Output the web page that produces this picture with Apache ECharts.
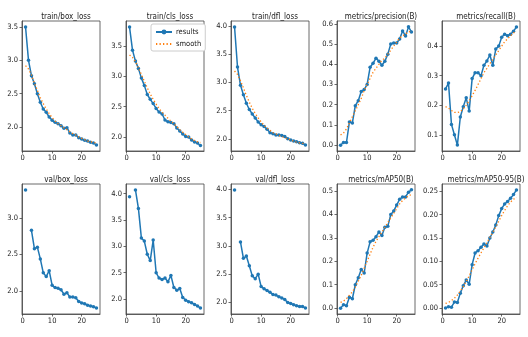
<!DOCTYPE html>
<html><head><meta charset="utf-8">
<script src="https://cdn.jsdelivr.net/npm/echarts@6/dist/echarts.min.js"></script>
<style>html,body{margin:0;padding:0;background:#fff}#c{width:528px;height:337px}</style>
</head><body><div id="c"></div>
<script>
const epochs = [1,2,3,4,5,6,7,8,9,10,11,12,13,14,15,16,17,18,19,20,21,22,23,24,25];
const xTickLabels = [0, 10, 20];

const trainBoxLoss   = [3.50,3.00,2.77,2.65,2.50,2.37,2.27,2.22,2.15,2.10,2.07,2.05,2.02,1.98,1.99,1.91,1.88,1.88,1.84,1.82,1.80,1.79,1.77,1.76,1.73];
const trainBoxSmooth = [2.92,2.87,2.78,2.66,2.55,2.44,2.35,2.27,2.20,2.14,2.09,2.05,2.02,1.99,1.96,1.93,1.90,1.88,1.85,1.83,1.81,1.79,1.78,1.77,1.76];
const trainClsLoss   = [3.81,3.43,3.25,3.13,2.97,2.85,2.70,2.62,2.55,2.47,2.41,2.38,2.28,2.25,2.24,2.22,2.15,2.10,2.05,2.01,2.00,1.95,1.92,1.90,1.86];
const trainClsSmooth = [3.35,3.31,3.24,3.14,3.03,2.92,2.81,2.71,2.62,2.54,2.47,2.41,2.36,2.31,2.26,2.22,2.17,2.12,2.08,2.04,2.00,1.97,1.94,1.92,1.91];
const trainDflLoss   = [3.98,3.27,2.95,2.78,2.63,2.52,2.44,2.37,2.30,2.25,2.22,2.17,2.11,2.09,2.07,2.07,2.06,2.04,2.00,1.98,1.96,1.95,1.93,1.92,1.89];
const trainDflSmooth = [3.20,3.14,3.03,2.90,2.77,2.65,2.54,2.45,2.37,2.30,2.24,2.19,2.15,2.11,2.09,2.06,2.04,2.02,2.00,1.98,1.96,1.94,1.93,1.92,1.92];
const precision      = [0.000,0.013,0.013,0.115,0.110,0.195,0.220,0.265,0.275,0.300,0.385,0.405,0.430,0.415,0.395,0.415,0.450,0.500,0.505,0.505,0.525,0.565,0.540,0.585,0.560];
const precisionSmooth= [0.05,0.06,0.08,0.11,0.14,0.17,0.20,0.23,0.27,0.30,0.33,0.36,0.38,0.40,0.42,0.43,0.45,0.47,0.49,0.51,0.53,0.54,0.55,0.56,0.565];
const recall         = [0.255,0.275,0.135,0.100,0.065,0.160,0.195,0.225,0.180,0.290,0.310,0.310,0.300,0.335,0.350,0.370,0.335,0.390,0.400,0.430,0.440,0.435,0.440,0.450,0.465];
const recallSmooth   = [0.195,0.190,0.182,0.176,0.175,0.178,0.188,0.200,0.215,0.232,0.250,0.270,0.290,0.310,0.325,0.340,0.355,0.370,0.385,0.400,0.415,0.425,0.435,0.445,0.450];
const valBoxLoss     = [3.38,null,2.83,2.58,2.60,2.44,2.25,2.20,2.28,2.08,2.05,2.04,2.02,1.96,1.98,1.92,1.92,1.91,1.86,1.84,1.83,1.81,1.80,1.79,1.77];
const valClsLoss     = [3.94,null,4.07,3.72,3.16,3.10,2.85,2.73,3.12,2.50,2.40,2.37,2.40,2.33,2.45,2.22,2.17,2.20,2.03,1.98,1.95,1.93,1.90,1.87,1.83];
const valDflLoss     = [3.99,null,3.07,2.78,2.82,2.65,2.47,2.42,2.50,2.28,2.24,2.21,2.18,2.14,2.13,2.10,2.08,2.05,2.00,1.98,1.96,1.94,1.93,1.93,1.90];
const mAP50          = [0.000,0.015,0.010,0.047,0.040,0.100,0.130,0.165,0.150,0.235,0.283,0.290,0.305,0.325,0.310,0.345,0.350,0.400,0.415,0.440,0.465,0.475,0.475,0.495,0.505];
const mAP50Smooth    = [0.025,0.030,0.040,0.055,0.070,0.090,0.115,0.140,0.170,0.200,0.230,0.260,0.285,0.305,0.325,0.345,0.365,0.385,0.405,0.425,0.445,0.460,0.470,0.480,0.485];
const mAP5095        = [0.000,0.003,0.002,0.013,0.012,0.032,0.048,0.060,0.051,0.093,0.118,0.123,0.130,0.137,0.133,0.150,0.163,0.178,0.198,0.213,0.223,0.228,0.235,0.243,0.253];
const mAP5095Smooth  = [0.010,0.012,0.016,0.021,0.028,0.036,0.046,0.057,0.069,0.082,0.095,0.107,0.118,0.129,0.140,0.151,0.162,0.174,0.186,0.198,0.209,0.219,0.227,0.233,0.237];

const titles = ['train/box_loss','train/cls_loss','train/dfl_loss','metrics/precision(B)','metrics/recall(B)',
                'val/box_loss','val/cls_loss','val/dfl_loss','metrics/mAP50(B)','metrics/mAP50-95(B)'];
const yTickLabels = [
  [2.0,2.5,3.0,3.5],
  [2.0,2.5,3.0,3.5],
  [2.0,2.5,3.0,3.5,4.0],
  [0.0,0.1,0.2,0.3,0.4,0.5,0.6],
  [0.1,0.2,0.3,0.4],
  [2.0,2.5,3.0],
  [2.0,2.5,3.0,3.5,4.0],
  [2.0,2.5,3.0,3.5,4.0],
  [0.0,0.1,0.2,0.3,0.4,0.5],
  [0.00,0.05,0.10,0.15,0.20,0.25]
];
const resultsSeries = [trainBoxLoss,trainClsLoss,trainDflLoss,precision,recall,valBoxLoss,valClsLoss,valDflLoss,mAP50,mAP5095];
const smoothSeries  = [trainBoxSmooth,trainClsSmooth,trainDflSmooth,precisionSmooth,recallSmooth,null,null,null,mAP50Smooth,mAP5095Smooth];

// layout / style (not data)
const decimals = [1,1,1,1,1,1,1,1,1,2];
const yRanges = [[1.64,3.59],[1.77,3.91],[1.785,4.085],[-0.029,0.614],[0.045,0.485],
                 [1.69,3.46],[1.718,4.182],[1.7955,4.0945],[-0.025,0.53],[-0.0127,0.2657]];
const lefts = [22,126,231,337,442];
const tops = [21,184];
const W = 78, H = 130;
const FONT = "'DejaVu Sans Condensed','DejaVu Sans',sans-serif";
const frame = '#444';
const txt = '#222';

const option = {animation:false, backgroundColor:'#fff', title:[], grid:[], xAxis:[], yAxis:[], series:[],
  legend:{data:[{name:'results'},{name:'smooth', itemStyle:{opacity:0}}], left:151, top:24, orient:'vertical', itemWidth:16, itemHeight:6, itemGap:4,
    padding:[4,4,3,4], borderColor:'#ccc', borderWidth:1, borderRadius:2, backgroundColor:'#fff',
    textStyle:{fontSize:7.5, fontFamily:FONT, color:txt, padding:[0,0,0,-1]}, selectedMode:false}
};

for (let i=0;i<10;i++){
  const row = i<5?0:1, col = i%5;
  const L = lefts[col], T = tops[row];
  option.title.push({text:titles[i], left:L+W/2, top:T-13, textAlign:'center',
    textStyle:{fontSize:8, fontWeight:'normal', fontFamily:FONT, color:txt}});
  option.grid.push({left:L, top:T, width:W, height:H, show:true, borderColor:frame, borderWidth:0.8, backgroundColor:'transparent'});
  option.xAxis.push({gridIndex:i, type:'value', min:-0.2, max:26.2, splitLine:{show:false},
    axisLine:{show:true, onZero:false, lineStyle:{color:frame, width:0.8}},
    axisTick:{show:true, length:2.5, lineStyle:{color:frame, width:0.8}, customValues:xTickLabels},
    axisLabel:{customValues:xTickLabels, fontSize:7.5, fontFamily:FONT, color:txt, margin:3}});
  const dec = decimals[i];
  option.yAxis.push({gridIndex:i, type:'value', min:yRanges[i][0], max:yRanges[i][1], splitLine:{show:false},
    axisLine:{show:true, onZero:false, lineStyle:{color:frame, width:0.8}},
    axisTick:{show:true, length:2.5, lineStyle:{color:frame, width:0.8}, customValues:yTickLabels[i]},
    axisLabel:{customValues:yTickLabels[i], fontSize:7.5, fontFamily:FONT, color:txt, margin:4,
      formatter:(v)=>Number(v).toFixed(dec)}});
  option.series.push({type:'line', name:'results', xAxisIndex:i, yAxisIndex:i,
    data: epochs.map((e,k)=>[e, resultsSeries[i][k]===null?'-':resultsSeries[i][k]]),
    symbol:'circle', symbolSize:3.5, showSymbol:true, connectNulls:false,
    lineStyle:{width:1.5, color:'#1f77b4'}, itemStyle:{color:'#1f77b4'}, z:2});
  if (smoothSeries[i]) {
    option.series.push({type:'line', name:'smooth', xAxisIndex:i, yAxisIndex:i,
      data: epochs.map((e,k)=>[e, smoothSeries[i][k]]),
      symbol:'none', showSymbol:false,
      lineStyle:{width:1.3, color:'#ff7f0e', type:[1.3,2.2]}, itemStyle:{color:'#ff7f0e'}, z:3});
  }
}
const chart = echarts.init(document.getElementById('c'), null, {renderer:'canvas'});
chart.setOption(option);
</script></body></html>
